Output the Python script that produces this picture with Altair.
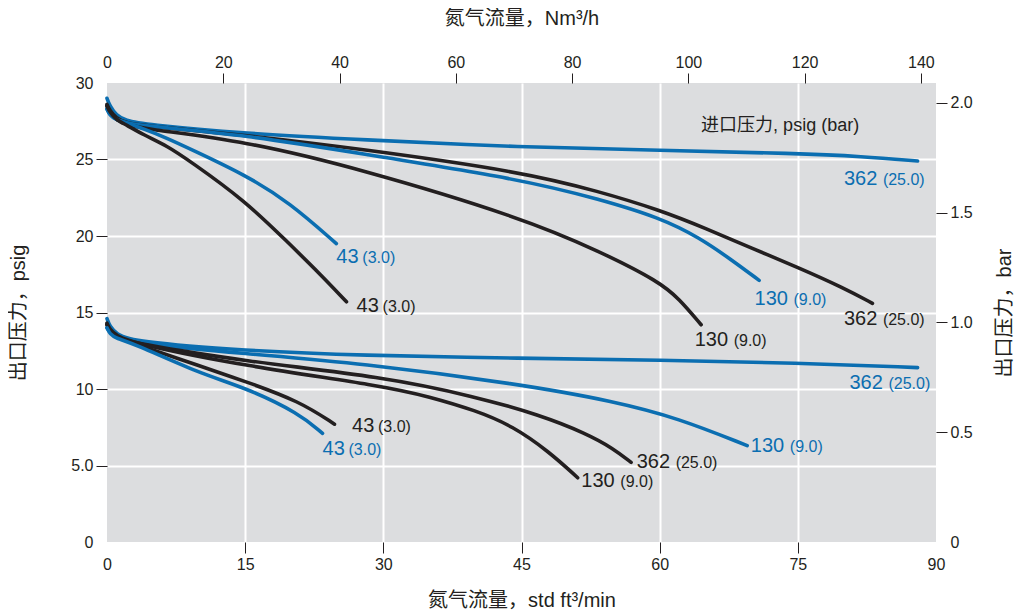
import altair as alt
import pandas as pd

BLUE = "#0b6eb1"
BLACK = "#231f20"
FONT = "Liberation Sans, Noto Sans CJK SC"

# ---- curves: flow (std ft3/min) vs outlet pressure (psig) ----
# upper family
u362b_x = [0, 0.3, 1, 2, 4, 15, 27.4, 45, 60, 75, 82, 88]
u362b_y = [29.0, 28.5, 27.9, 27.55, 27.3, 26.7, 26.3, 25.8, 25.6, 25.4, 25.2, 24.9]
u362k_x = [0, 0.3, 1, 2, 4, 15, 27.4, 45, 53.5, 60, 65, 70, 75, 80, 83.1]
u362k_y = [28.6, 28.2, 27.7, 27.4, 27.2, 26.6, 25.7, 24.2, 22.9, 21.7, 20.5, 19.2, 17.95, 16.6, 15.6]
u130b_x = [0, 0.3, 1, 2, 4, 15, 27.4, 45, 53.5, 60, 64.3, 67.9, 70.8]
u130b_y = [28.3, 27.9, 27.6, 27.4, 27.2, 26.6, 25.4, 23.7, 22.4, 21.2, 19.9, 18.4, 17.1]
u130k_x = [0, 0.3, 1, 2, 4, 15, 27.4, 45, 53.5, 60, 62.1, 64.5]
u130k_y = [28.5, 28.1, 27.6, 27.3, 27.0, 26.2, 24.4, 21.2, 19.0, 17.0, 15.9, 14.2]
u43b_x = [0, 0.3, 1, 2, 4, 6.5, 9, 15, 19.8, 24.9]
u43b_y = [28.3, 27.9, 27.6, 27.4, 27.0, 26.4, 25.7, 24.0, 22.2, 19.5]
u43k_x = [0, 0.3, 1, 2, 4, 6.5, 9, 15, 19.6, 23, 26.0]
u43k_y = [28.5, 28.1, 27.6, 27.3, 26.6, 25.9, 24.9, 22.3, 19.6, 17.6, 15.7]
# lower family
l362b_x = [0, 0.3, 1, 2.8, 15, 27.4, 45, 60, 75, 88]
l362b_y = [14.6, 14.1, 13.6, 13.1, 12.5, 12.2, 12.0, 11.9, 11.7, 11.4]
l130b_x = [0, 0.3, 1, 2.8, 15, 27.4, 45, 55, 62, 69.5]
l130b_y = [14.0, 13.7, 13.4, 13.0, 12.3, 11.7, 10.3, 9.2, 8.1, 6.3]
l362k_x = [0, 0.3, 1, 2.8, 15, 30, 40, 47, 52, 55, 56.9]
l362k_y = [14.2, 13.8, 13.4, 13.0, 11.8, 10.8, 9.5, 8.3, 7.1, 6.1, 5.2]
l130k_x = [0, 0.3, 1, 2.8, 15, 30, 35, 40, 44, 48, 51.1]
l130k_y = [14.3, 13.9, 13.5, 13.0, 11.5, 10.2, 9.5, 8.6, 7.6, 5.9, 4.2]
l43k_x = [0, 0.3, 1, 2.8, 10.1, 15, 20.9, 24.7]
l43k_y = [14.2, 13.8, 13.4, 13.0, 11.5, 10.5, 9.2, 7.7]
l43b_x = [0, 0.3, 1, 2.8, 10.1, 15, 20.9, 23.4]
l43b_y = [14.0, 13.6, 13.3, 13.0, 11.0, 10.1, 8.4, 7.1]

curves = [
    ("u362b", u362b_x, u362b_y, BLUE), ("u362k", u362k_x, u362k_y, BLACK),
    ("u130b", u130b_x, u130b_y, BLUE), ("u130k", u130k_x, u130k_y, BLACK),
    ("u43b", u43b_x, u43b_y, BLUE), ("u43k", u43k_x, u43k_y, BLACK),
    ("l362b", l362b_x, l362b_y, BLUE), ("l130b", l130b_x, l130b_y, BLUE),
    ("l362k", l362k_x, l362k_y, BLACK), ("l130k", l130k_x, l130k_y, BLACK),
    ("l43k", l43k_x, l43k_y, BLACK), ("l43b", l43b_x, l43b_y, BLUE),
]

# ---- curve labels: inlet pressure psig (bar) ----
lab_x = [24.9, 27.1, 80.0, 63.8, 70.3, 80.0, 80.6, 69.9, 57.5, 51.5, 26.6, 23.4]
lab_y = [18.6, 15.4, 23.7, 13.2, 15.9, 14.6, 10.4, 6.3, 5.2, 4.0, 7.6, 6.1]
lab_num = ["43", "43", "362", "130", "130", "362", "362", "130", "362", "130", "43", "43"]
lab_bar = ["(3.0)", "(3.0)", "(25.0)", "(9.0)", "(9.0)", "(25.0)", "(25.0)", "(9.0)", "(25.0)", "(9.0)", "(3.0)", "(3.0)"]
lab_col = [BLUE, BLACK, BLUE, BLACK, BLUE, BLACK, BLUE, BLUE, BLACK, BLACK, BLACK, BLUE]

x_ticks = [0, 15, 30, 45, 60, 75, 90]
y_ticks = [0, 5, 10, 15, 20, 25, 30]
top_ticks = [0, 20, 40, 60, 80, 100, 120, 140]
right_ticks = [0, 0.5, 1.0, 1.5, 2.0]
top_domain = [0, 142.6]     # Nm3/h across the plot width
right_domain = [0, 2.09]    # bar across the plot height

rows = []
for name, xs_, ys_, col in curves:
    for i, (x, y) in enumerate(zip(xs_, ys_)):
        rows.append({"curve": name, "x": x, "y": y, "order": i, "color": col})
df = pd.DataFrame(rows)

labels = pd.DataFrame({"x": lab_x, "y": lab_y, "num": lab_num, "bar": lab_bar, "color": lab_col})
labels["digits"] = labels["num"].str.len()


def cond(test, hide, show):
    return {"condition": {"test": test, "value": hide}, "value": show}


xaxis = alt.Axis(
    values=x_ticks, title="氮气流量，std ft³/min", grid=True,
    gridColor=cond("datum.value == 0 || datum.value == 90", "transparent", "white"),
    gridWidth=2, domain=False, tickSize=11,
    tickColor=cond("datum.value == 0 || datum.value == 90", "transparent", BLACK),
    labelFontSize=16, labelFont=FONT, labelColor=BLACK, labelPadding=3, labelFlush=False,
    titleFont=FONT, titleFontSize=20, titleFontWeight="normal", titleColor=BLACK, titlePadding=18,
)
yaxis = alt.Axis(
    values=y_ticks, title="出口压力，psig", grid=True,
    gridColor=cond("datum.value == 0 || datum.value == 30", "transparent", "white"),
    gridWidth=2, domain=False, tickSize=11,
    tickColor=cond("datum.value == 0 || datum.value == 30", "transparent", BLACK),
    labelExpr="datum.value == 5 ? '5.0' : datum.label",
    labelFontSize=16, labelFont=FONT, labelColor=BLACK, labelPadding=3, labelFlush=False,
    titleFont=FONT, titleFontSize=20, titleFontWeight="normal", titleColor=BLACK, titlePadding=42,
)

xs = alt.Scale(domain=[0, 90], nice=False)
ys = alt.Scale(domain=[0, 30], nice=False)

lines = alt.Chart(df).mark_line(strokeWidth=3.6, strokeCap="round", interpolate="basis").encode(
    x=alt.X("x:Q", scale=xs, axis=xaxis),
    y=alt.Y("y:Q", scale=ys, axis=yaxis),
    color=alt.Color("color:N", scale=None),
    detail="curve:N",
    order="order:Q",
)

num_text = alt.Chart(labels).mark_text(align="left", baseline="middle", fontSize=20, font=FONT).encode(
    x=alt.X("x:Q", scale=xs), y=alt.Y("y:Q", scale=ys),
    text="num:N", color=alt.Color("color:N", scale=None),
)
bar2 = alt.Chart(labels).transform_filter("datum.digits == 2").mark_text(
    align="left", baseline="middle", fontSize=16, font=FONT, dx=26, dy=1
).encode(x=alt.X("x:Q", scale=xs), y=alt.Y("y:Q", scale=ys), text="bar:N",
         color=alt.Color("color:N", scale=None))
bar3 = alt.Chart(labels).transform_filter("datum.digits == 3").mark_text(
    align="left", baseline="middle", fontSize=16, font=FONT, dx=39, dy=1
).encode(x=alt.X("x:Q", scale=xs), y=alt.Y("y:Q", scale=ys), text="bar:N",
         color=alt.Color("color:N", scale=None))

note = alt.Chart(pd.DataFrame({"x": [64.5], "y": [27.2], "t": ["进口压力, psig (bar)"]})).mark_text(
    align="left", baseline="middle", fontSize=18, font=FONT, color=BLACK
).encode(x=alt.X("x:Q", scale=xs), y=alt.Y("y:Q", scale=ys), text="t:N")

main = alt.layer(lines, num_text, bar2, bar3, note)

secondary = alt.Chart(pd.DataFrame({"nm3h": top_domain, "bar": right_domain})).mark_point(opacity=0).encode(
    x=alt.X("nm3h:Q", scale=alt.Scale(domain=top_domain, nice=False),
            axis=alt.Axis(orient="top", values=top_ticks, title="氮气流量，Nm³/h", grid=False, domain=False,
                          tickSize=10, tickColor=cond("datum.value == 0", "transparent", BLACK),
                          labelFontSize=16, labelFont=FONT, labelColor=BLACK, labelPadding=3, labelFlush=False,
                          titleFont=FONT, titleFontSize=20, titleFontWeight="normal", titleColor=BLACK,
                          titlePadding=26)),
    y=alt.Y("bar:Q", scale=alt.Scale(domain=right_domain, nice=False),
            axis=alt.Axis(orient="right", values=right_ticks, title="出口压力，bar", grid=False, domain=False,
                          tickSize=11, tickColor=cond("datum.value == 0", "transparent", BLACK),
                          labelExpr="datum.value == 0 ? '0' : format(datum.value, '.1f')",
                          labelFontSize=16, labelFont=FONT, labelColor=BLACK, labelPadding=3, labelFlush=False,
                          titleFont=FONT, titleFontSize=20, titleFontWeight="normal", titleColor=BLACK,
                          titleAngle=270, titleBaseline="top", titlePadding=22)),
)

chart = alt.layer(main, secondary).resolve_scale(x="independent", y="independent").properties(
    width=829, height=459, padding={"left": 0, "top": 0, "right": 0, "bottom": 0}
).configure_view(fill="#dcdddf", stroke=None)

chart.save("out.html", embed_options={"renderer": "svg", "actions": False})
